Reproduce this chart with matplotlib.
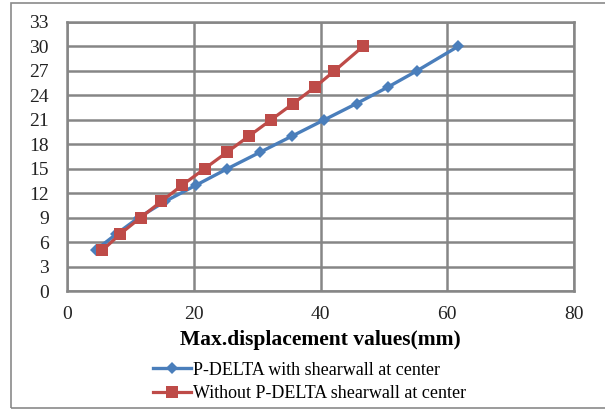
import matplotlib
matplotlib.use("Agg")
import matplotlib.pyplot as plt
from matplotlib.patches import Rectangle

# Storey levels and maximum displacement (mm)
storeys_pdelta = [5, 7, 9, 11, 13, 15, 17, 19, 21, 23, 25, 27, 30]
disp_pdelta = [4.5, 7.8, 11.3, 15.5, 20.4, 25.3, 30.4, 35.5, 40.6, 45.7, 50.6, 55.2, 61.7]

storeys_no_pdelta = [5, 7, 9, 11, 13, 15, 17, 19, 21, 23, 25, 27, 30]
disp_no_pdelta = [5.6, 8.4, 11.6, 14.9, 18.2, 21.7, 25.2, 28.7, 32.2, 35.7, 39.1, 42.2, 46.7]

x_ticks = [0, 20, 40, 60, 80]
y_ticks = list(range(0, 34, 3))

label_pdelta = "P-DELTA with shearwall at center"
label_no_pdelta = "Without P-DELTA shearwall at center"
x_label = "Max.displacement values(mm)"

plt.rcParams["font.family"] = ["Liberation Serif", "DejaVu Serif"]

fig = plt.figure(figsize=(6.05, 4.09), dpi=100)
ax = fig.add_axes([67 / 605, 1 - 291 / 409, (574 - 67) / 605, (291 - 22) / 409])

grid_col = "#868686"
ax.plot(disp_pdelta, storeys_pdelta, color="#4a7ebb", lw=2.4, marker="D",
        ms=6, markeredgewidth=0, label=label_pdelta, zorder=3)
ax.plot(disp_no_pdelta, storeys_no_pdelta, color="#be4b48", lw=2.3, marker="s",
        ms=9, markeredgewidth=0, label=label_no_pdelta, zorder=3)

ax.set_xlim(0, 80)
ax.set_ylim(0, 33)
ax.set_xticks(x_ticks)
ax.set_yticks(y_ticks)
ax.grid(True, color=grid_col, lw=1.8)
ax.set_axisbelow(True)
for s in ax.spines.values():
    s.set_color(grid_col)
    s.set_linewidth(1.8)
ax.tick_params(length=0, labelsize=14, colors="#222222")
ax.tick_params(axis="y", pad=13)
ax.tick_params(axis="x", pad=11)

ax.set_xlabel(x_label, fontsize=15.5, fontweight="bold", labelpad=5)

leg = fig.legend(loc="upper center", bbox_to_anchor=(0.512, 0.138), ncol=1,
                 frameon=False, fontsize=13, handlelength=2.1,
                 handletextpad=0.1, labelspacing=0.35, borderpad=0)

# chart border
fig.add_artist(Rectangle((11 / 605, 0.002), 1.2, 1 - 0.002 - 3 / 409,
                         transform=fig.transFigure, fill=False,
                         edgecolor="#8a8a8a", lw=1.2))

fig.savefig("out.png", dpi=100, facecolor="white")
